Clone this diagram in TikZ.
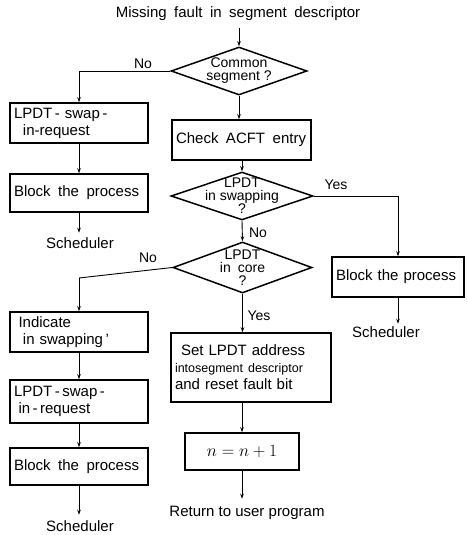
\documentclass[tikz,border=0pt]{standalone}
\usepackage{fontspec}
\setmainfont{Liberation Sans}
\usetikzlibrary{shapes.geometric,arrows.meta}

\tikzset{
  txt/.style={font=\fontsize{15}{17}\selectfont, inner sep=0pt},
  small/.style={font=\fontsize{14}{13}\selectfont, inner sep=0pt, align=center},
  pbox/.style={draw, line width=1.5pt, inner xsep=4pt, inner ysep=2pt,
    font=\fontsize{15}{17}\selectfont, align=left},
  dia/.style={draw, diamond, line width=1.5pt, inner sep=0pt},
  flow/.style={line width=0.9pt, -{Stealth[length=5pt,width=3.5pt]}},
  link/.style={line width=0.9pt},
  lbl/.style={font=\fontsize{14}{16}\selectfont, inner sep=0pt}
}

\begin{document}
\begin{tikzpicture}[x=1pt,y=-1pt]
\useasboundingbox (0,0) rectangle (467,535);

% start
\node[txt] (start) at (238,14) {Missing\enspace fault\enspace in\enspace segment\enspace descriptor};

% decision: common segment
\node[dia, minimum width=136pt, minimum height=48pt] (d1) at (239,71) {};
\node[small] (d1t) at (d1) {Common\\segment ?};

% left branch of the first decision
\node[pbox, minimum width=138pt, minimum height=40pt, text width=130pt] (b1) at (79,123)
  {LPDT\,-\,\,swap\,-\\\hspace*{0.6em}in-request};
\node[pbox, minimum width=138pt, minimum height=38pt, text width=130pt] (b2) at (79,193)
  {\mbox{Block\, the\, process}};
\node[txt] (s1) at (80,243) {Scheduler};

% main column
\node[pbox, minimum width=139pt, minimum height=40pt, text width=131pt] (chk) at (241.5,140)
  {\mbox{Check\, ACFT\, entry}};
\node[dia, minimum width=142pt, minimum height=48pt] (d2) at (242,196) {};
\node[small] (d2t) at (d2) {LPDT\\in swapping\\?};

% right branch: swapping in progress
\node[pbox, minimum width=132pt, minimum height=40pt, text width=124pt] (br) at (398,277)
  {\mbox{Block the process}};
\node[txt] (s2) at (386,332) {Scheduler};

\node[dia, minimum width=139pt, minimum height=51pt] (d3) at (242.5,267.5) {};
\node[small] (d3t) at (d3) {LPDT\\in\enspace core\\?};

% left branch: segment table not in core
\node[pbox, minimum width=138pt, minimum height=40pt, text width=130pt] (b4) at (79,332)
  {\hspace*{0.3em}Indicate\\\hspace*{0.6em}in swapping\,'};
\node[pbox, minimum width=138pt, minimum height=43pt, text width=130pt] (b5) at (79,401.5)
  {LPDT\,-\,swap\,-\\\hspace*{0.3em}in\,-\,request};
\node[pbox, minimum width=138pt, minimum height=37pt, text width=130pt] (b6) at (79,466.5)
  {\mbox{Block\, the\, process}};
\node[txt] (s3) at (80,526) {Scheduler};

% segment table in core
\node[pbox, minimum width=160pt, minimum height=69pt, text width=152pt] (setb) at (251,367.5)
  {\hspace*{0.4em}Set LPDT address\\
   {\fontsize{12.5}{17}\selectfont intosegment descriptor}\\
   and reset fault bit};
\node[pbox, minimum width=114pt, minimum height=37pt, align=center,
      font=\fontsize{17}{19}\selectfont] (inc) at (242,451.5)
  {$n = n + 1$};
\node[txt] (ret) at (247,513) {Return to user program};

% connectors
\coordinate (top) at (239,28);
\draw[flow] (top) -- (d1.north);
\draw[flow] (d1.west) -| (b1.north);
\draw[flow] (d1.south) -- (d1.south |- chk.north);
\draw[flow] (b1.south) -- (b2.north);
\draw[flow] (b2.south) -- ++(0,20);
\draw[flow] (chk.south -| d2.north) -- (d2.north);
\draw[flow] (d2.east) -| (br.north);
\draw[flow] (br.south) -- ++(0,26);
\draw[flow] (d2.south) -- (d3.north);
\coordinate (k3) at (79,278);
\draw[link] (d3.west) -- (k3);
\draw[flow] (k3) -- (b4.north);
\draw[flow] (d3.south) -- (d3.south |- setb.north);
\draw[flow] (b4.south) -- (b5.north);
\draw[flow] (b5.south) -- (b6.north);
\draw[flow] (b6.south) -- ++(0,29);
\draw[flow] (setb.south -| inc.north) -- (inc.north);
\draw[flow] (inc.south) -- ++(0,28);

% branch labels
\node[lbl] (n1) at (143,64) {No};
\node[lbl] (y2) at (336,185) {Yes};
\node[lbl] (n2) at (258,233) {No};
\node[lbl] (n3) at (148,258) {No};
\node[lbl] (y3) at (259,316) {Yes};
\end{tikzpicture}
\end{document}
